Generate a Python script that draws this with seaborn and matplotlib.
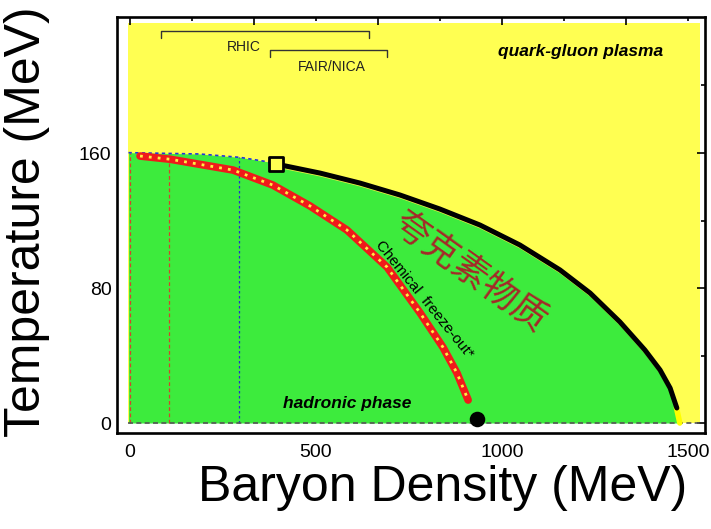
import numpy as np
import pandas as pd
import matplotlib
matplotlib.use("Agg")
import matplotlib.pyplot as plt
import seaborn as sns

# ---------------- data ----------------
# phase boundary (black curve), baryon density (MeV) vs temperature (MeV)
boundary_x = [392, 511, 618, 726, 833, 941, 1048, 1156, 1237, 1317, 1384, 1425, 1452, 1470]
boundary_t = [153.5, 148.1, 142.2, 135.1, 126.8, 117.3, 105.5, 90.7, 77.0, 59.9, 43.3, 31.4, 20.7, 8.9]
# crossover (blue dotted) from T axis to the critical point
cross_x = [-4, 188, 296, 367, 392]
cross_t = [160.2, 159.4, 157.4, 154.9, 153.5]
# low-T end of the boundary (yellow segment)
end_x = [1469, 1478]
end_t = [9.0, 0]
# chemical freeze-out (red curve)
freeze_x = [27, 108, 277, 384, 484, 583, 691, 780, 841, 879, 909]
freeze_t = [158.2, 156.3, 149.9, 141.0, 128.6, 114.4, 92.4, 65.2, 45.0, 29.6, 13.6]
# critical point and nuclear matter
cp_x, cp_t = [392], [153.5]
nm_x, nm_t = [932], [2.2]
# experiment ranges
rhic_range = [83, 643]
fair_range = [376, 692]
# vertical reference lines
vline_red_x = [0, 106]
vline_blue_x = [294]

x_major = [0, 1000 / 3, 2000 / 3, 1000, 4000 / 3]
x_major_labels = ["0", "", "", "1000", ""]
x_minor = [500 / 3, 500, 2500 / 3, 3500 / 3, 1500]
x_minor_labels = ["", "500", "", "", "1500"]
y_major = [0, 80, 160]
y_major_labels = ["0", "80", "160"]
y_minor = [40, 120, 200]

YELLOW = "#FFFF52"
GREEN = "#3DEB3D"

sns.set_style("white")
plt.rcParams["font.family"] = ["Liberation Sans", "DejaVu Sans"]
plt.rcParams["text.color"] = "black"
plt.rcParams["xtick.color"] = "black"
plt.rcParams["ytick.color"] = "black"
plt.rcParams["xtick.labelcolor"] = "black"
plt.rcParams["ytick.labelcolor"] = "black"

fig = plt.figure(figsize=(7.11, 5.29), dpi=100)
ax = fig.add_axes([0.16456, 0.1820, 0.8270, 0.7859])
ax.set_xlim(-34.9, 1545.7)
ax.set_ylim(-5.75, 240.6)
ax.set_facecolor("white")

# yellow QGP background
ax.fill_between([-5, 1532], [0, 0], [237, 237], color=YELLOW, lw=0, zorder=0)
# green hadronic region
gx = np.array(cross_x[:-1] + boundary_x + end_x, dtype=float)
gt = np.array(cross_t[:-1] + boundary_t + end_t, dtype=float)
ax.fill_between(gx, 0, gt, color=GREEN, lw=0, zorder=1)
# thin yellow edge just below the boundary
sns.lineplot(x=boundary_x, y=np.array(boundary_t) - 1.6, ax=ax, color="#E8F040",
             lw=1.0, sort=False, zorder=2)

# vertical dashed reference lines
for xs, col, ls in [(vline_red_x, "#D2452A", (0, (3, 2))), (vline_blue_x, "#2233CC", (0, (2, 2)))]:
    tops = np.interp(xs, cross_x, cross_t)
    ax.vlines(xs, 0, tops, colors=col, lw=0.9, linestyles=[ls], zorder=2)

# T = 0 dashed line
sns.lineplot(x=[-5, 1532], y=[0, 0], ax=ax, color="#555555", lw=1.2,
             linestyle=(0, (3, 2)), zorder=3)

# crossover blue dotted
sns.lineplot(x=cross_x, y=cross_t, ax=ax, color="#2233DD", lw=1.2,
             linestyle=(0, (2, 2)), sort=False, zorder=3)

# yellow end segment
sns.lineplot(x=end_x, y=end_t, ax=ax, color="#FFFF00", lw=4, sort=False, zorder=3)
# phase boundary black
sns.lineplot(x=boundary_x, y=boundary_t, ax=ax, color="black", lw=3.6, sort=False, zorder=4)

# chemical freeze-out red + yellow dots
sns.lineplot(x=freeze_x, y=freeze_t, ax=ax, color="#F01A1A", lw=5.5, sort=False, zorder=4)
sns.lineplot(x=freeze_x, y=freeze_t, ax=ax, color="#FFEE44", lw=2.0, sort=False,
             linestyle=(0, (1, 2.2)), zorder=5)

# markers
sns.scatterplot(x=cp_x, y=cp_t, ax=ax, marker="s", s=95, color=YELLOW,
                edgecolor="black", linewidth=2, zorder=6)
sns.scatterplot(x=nm_x, y=nm_t, ax=ax, marker="o", s=125, color="black",
                edgecolor="black", linewidth=0, zorder=6, clip_on=False)

# experiment brackets
for (x0, x1), ty, lab, lx in [(rhic_range, 232.3, "RHIC", 307),
                              (fair_range, 220.9, "FAIR/NICA", 542)]:
    ax.plot([x0, x0, x1, x1], [ty - 4.2, ty, ty, ty - 4.2], color="#333333", lw=1.0, zorder=6)
    ax.text(lx, ty - 5.5, lab, fontsize=10, color="#222222", ha="center", va="top", zorder=6)

# labels inside
ax.text(1212, 220, "quark-gluon plasma", fontsize=12.5, fontweight="bold",
        fontstyle="italic", ha="center", va="center", zorder=6)
ax.text(583, 11.3, "hadronic phase", fontsize=12.5, fontweight="bold",
        fontstyle="italic", ha="center", va="center", zorder=6)
ax.text(790, 73, "Chemical  freeze-out*", fontsize=11, rotation=-51,
        rotation_mode="anchor", ha="center", va="center", zorder=6)
ax.text(913, 89, "夸克素物质", fontsize=26, rotation=-35.6, color="#A52828",
        family=["Noto Sans CJK SC", "DejaVu Sans"], fontweight="light",
        rotation_mode="anchor", ha="center", va="center", zorder=6)

# ticks
ax.set_xticks(x_major)
ax.set_xticklabels(x_major_labels)
ax.set_xticks(x_minor, minor=True)
ax.set_xticklabels(x_minor_labels, minor=True)
ax.set_yticks(y_major)
ax.set_yticklabels(y_major_labels)
ax.set_yticks(y_minor, minor=True)
ax.set_yticklabels([], minor=True)
ax.tick_params(which="both", direction="in", top=True, right=True, width=1.2,
               color="black", labelcolor="black", labelsize=14)
ax.tick_params(which="major", length=6)
ax.tick_params(which="minor", length=3.2)
ax.tick_params(axis="x", which="both", pad=8)
ax.tick_params(axis="y", which="both", pad=4)
for sp in ax.spines.values():
    sp.set_linewidth(1.9)
    sp.set_color("black")

fig.text(443 / 711, 1 - 488 / 529, "Baryon Density (MeV)", fontsize=36,
         color="black", ha="center", va="center")
fig.text(27 / 711, 1 - 222 / 529, "Temperature (MeV)", fontsize=36,
         color="black", rotation=90, ha="center", va="center")

fig.savefig("out.png", dpi=100)
